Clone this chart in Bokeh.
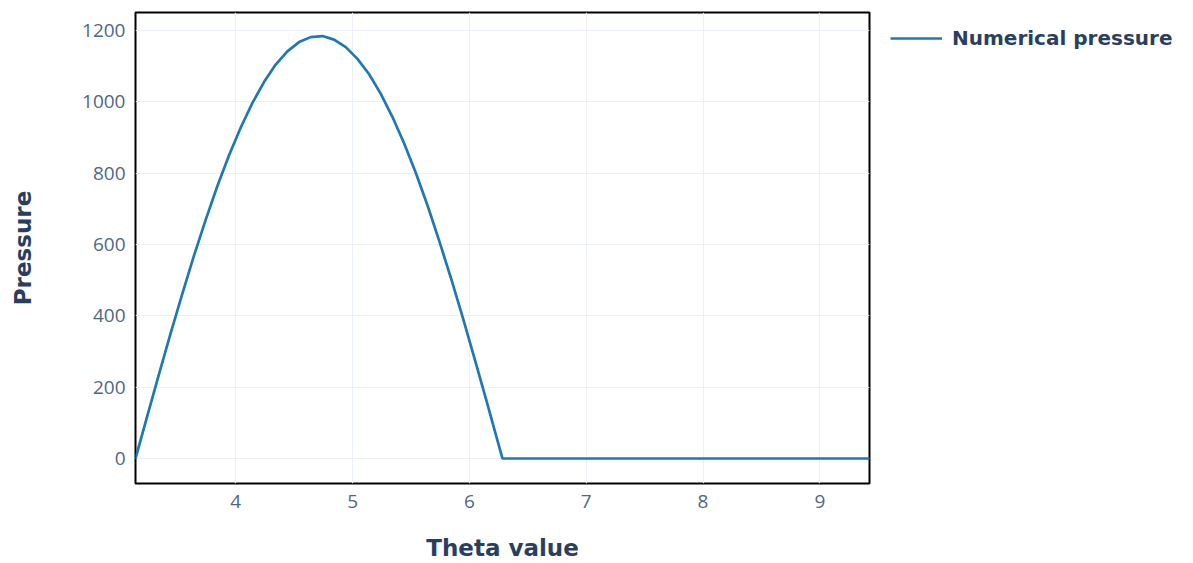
from bokeh.plotting import figure
from bokeh.models import Range1d, Legend, LegendItem, FixedTicker
from bokeh.embed import file_html
from bokeh.resources import INLINE

theta = [3.1416, 3.2416, 3.3416, 3.4416, 3.5416, 3.6416, 3.7416, 3.8416, 3.9416,
         4.0416, 4.1416, 4.2416, 4.3416, 4.4416, 4.5416, 4.6416, 4.7416, 4.8416,
         4.9416, 5.0416, 5.1416, 5.2416, 5.3416, 5.4416, 5.5416, 5.6416, 5.7416,
         5.8416, 5.9416, 6.0416, 6.1416, 6.2416, 6.2832, 7.0, 8.0, 9.0, 9.4248]
pressure = [0, 118, 235, 350, 461, 568, 668, 763, 849, 927, 996, 1055, 1104, 1141,
            1167, 1181, 1184, 1174, 1153, 1120, 1077, 1022, 957, 883, 800, 709, 610,
            506, 397, 283, 167, 49, 0, 0, 0, 0, 0]
x_ticks = [4, 5, 6, 7, 8, 9]
y_ticks = [0, 200, 400, 600, 800, 1000, 1200]

p = figure(frame_width=734, frame_height=471, output_backend="svg", toolbar_location=None,
           x_range=Range1d(3.1416, 9.4248), y_range=Range1d(-70, 1250),
           min_border_left=135, min_border_right=324, min_border_top=12,
           min_border_bottom=80)
p.outline_line_color = "black"
p.outline_line_width = 2
p.background_fill_color = "white"
p.border_fill_color = "white"

r = p.line(theta, pressure, line_color="#1f77b4", line_width=2.7)

p.xaxis.ticker = FixedTicker(ticks=x_ticks)
p.yaxis.ticker = FixedTicker(ticks=y_ticks)
for ax in (p.xaxis, p.yaxis):
    ax.axis_line_color = None
    ax.major_tick_line_color = None
    ax.minor_tick_line_color = None
    ax.major_label_text_font = "Open Sans"
    ax.major_label_text_font_size = "19px"
    ax.major_label_text_color = "#506784"
    ax.axis_label_text_font = "DejaVu Sans"
    ax.axis_label_text_font_style = "bold"
    ax.axis_label_text_font_size = "23px"
    ax.axis_label_text_color = "#2a3f5f"
p.xaxis.axis_label = "Theta value"
p.yaxis.axis_label = "Pressure"
p.xaxis.major_label_standoff = 5
p.yaxis.major_label_standoff = 4
p.xaxis.axis_label_standoff = 24
p.yaxis.axis_label_standoff = 43

p.xgrid.grid_line_color = "#ebf0f8"
p.ygrid.grid_line_color = "#ebf0f8"
p.xgrid.grid_line_width = 1
p.ygrid.grid_line_width = 1

legend = Legend(items=[LegendItem(label="Numerical pressure", renderers=[r])],
                location=(21, 433), margin=0, padding=0,
                border_line_color=None, background_fill_alpha=0,
                label_text_font="DejaVu Sans", label_text_font_style="bold",
                label_text_font_size="20px", label_text_color="#2a3f5f",
                glyph_width=52, label_standoff=10)
p.add_layout(legend, "right")

open("out.html", "w").write(file_html(p, INLINE))
